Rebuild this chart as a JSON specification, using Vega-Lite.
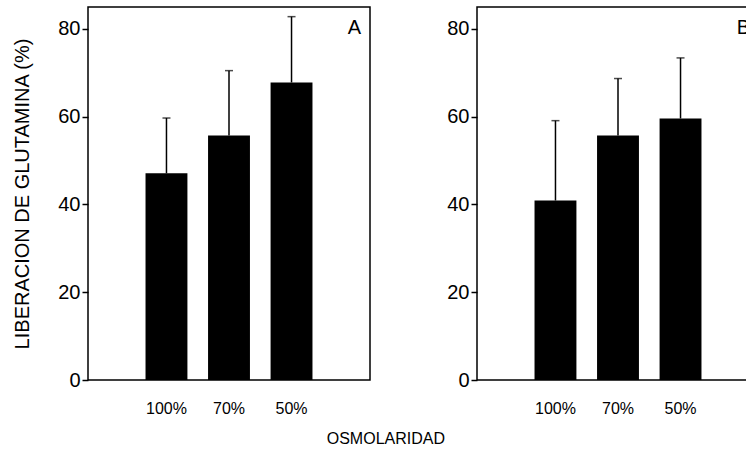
{
  "$schema": "https://vega.github.io/schema/vega-lite/v6.json",
  "padding": {"left": 12, "top": 6, "right": 0, "bottom": 5},
  "background": "white",
  "config": {
    "font": "Liberation Sans",
    "view": {"stroke": "black", "strokeWidth": 1.5},
    "axis": {"labelColor": "black", "titleColor": "black", "tickColor": "black", "grid": false}
  },
  "title": {"text": "OSMOLARIDAD", "orient": "bottom", "anchor": "middle", "fontSize": 16, "fontWeight": "normal", "offset": 14, "color": "black"},
  "data": {"values": [
    {"panel": "A", "osm": "100%", "value": 47.1, "upper": 59.7},
    {"panel": "A", "osm": "70%", "value": 55.7, "upper": 70.5},
    {"panel": "A", "osm": "50%", "value": 67.8, "upper": 82.8},
    {"panel": "B", "osm": "100%", "value": 40.9, "upper": 59.1},
    {"panel": "B", "osm": "70%", "value": 55.7, "upper": 68.7},
    {"panel": "B", "osm": "50%", "value": 59.6, "upper": 73.4}
  ]},
  "spacing": 75,
  "hconcat": [
    {
      "width": 282, "height": 373,
      "title": {"text": "A", "anchor": "end", "offset": -31, "dx": -9, "fontSize": 20, "fontWeight": "normal", "color": "black"},
      "transform": [{"filter": "datum.panel === 'A'"}],
      "encoding": {
        "x": {"field": "osm", "type": "nominal", "sort": ["100%", "70%", "50%"],
              "scale": {"paddingInner": 0.33, "paddingOuter": 0.92},
              "axis": {"title": null, "ticks": false, "domain": false, "labelAngle": 0, "labelPadding": 20, "labelFontSize": 16}}
      },
      "layer": [
        {"mark": {"type": "bar", "color": "black"},
         "encoding": {"y": {"field": "value", "type": "quantitative", "scale": {"domain": [0, 85], "nice": false},
           "axis": {"values": [0, 20, 40, 60, 80], "domain": false, "tickSize": 6, "tickWidth": 1.5, "labelFontSize": 20, "labelPadding": 2,
                    "title": "LIBERACION DE GLUTAMINA (%)", "titleFontSize": 20, "titleFontWeight": "normal", "titlePadding": 25}}}},
        {"mark": {"type": "rule", "color": "black", "strokeWidth": 1.5},
         "encoding": {"y": {"field": "value", "type": "quantitative"}, "y2": {"field": "upper"}}},
        {"mark": {"type": "tick", "color": "black", "size": 8, "thickness": 1.5},
         "encoding": {"y": {"field": "upper", "type": "quantitative"}}}
      ]
    },
    {
      "width": 282, "height": 373,
      "title": {"text": "B", "anchor": "end", "offset": -31, "dx": -9, "fontSize": 20, "fontWeight": "normal", "color": "black"},
      "transform": [{"filter": "datum.panel === 'B'"}],
      "encoding": {
        "x": {"field": "osm", "type": "nominal", "sort": ["100%", "70%", "50%"],
              "scale": {"paddingInner": 0.33, "paddingOuter": 0.92},
              "axis": {"title": null, "ticks": false, "domain": false, "labelAngle": 0, "labelPadding": 20, "labelFontSize": 16}}
      },
      "layer": [
        {"mark": {"type": "bar", "color": "black"},
         "encoding": {"y": {"field": "value", "type": "quantitative", "scale": {"domain": [0, 85], "nice": false},
           "axis": {"values": [0, 20, 40, 60, 80], "domain": false, "tickSize": 6, "tickWidth": 1.5, "labelFontSize": 20, "labelPadding": 2, "title": null}}}},
        {"mark": {"type": "rule", "color": "black", "strokeWidth": 1.5},
         "encoding": {"y": {"field": "value", "type": "quantitative"}, "y2": {"field": "upper"}}},
        {"mark": {"type": "tick", "color": "black", "size": 8, "thickness": 1.5},
         "encoding": {"y": {"field": "upper", "type": "quantitative"}}}
      ]
    }
  ]
}
